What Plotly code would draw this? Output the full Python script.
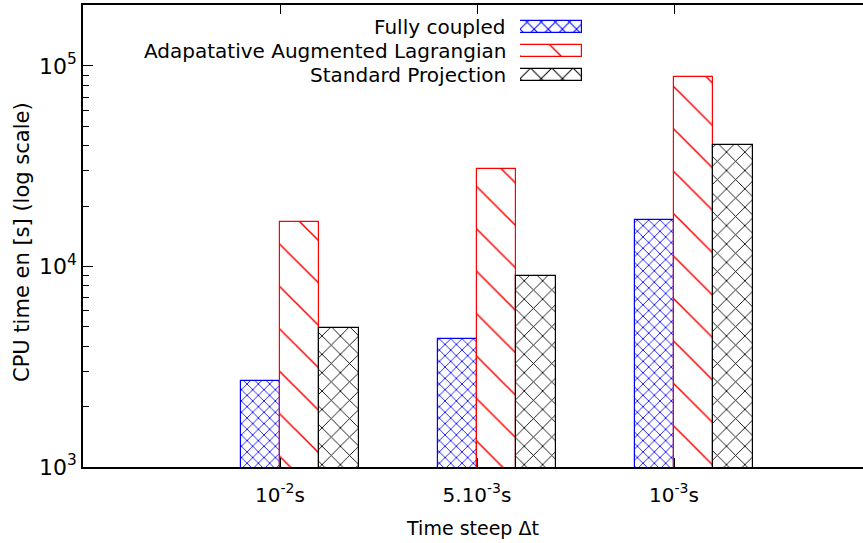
import plotly.graph_objects as go

# ---- data ----
categories = ["10<sup>-2</sup>s", "5.10<sup>-3</sup>s", "10<sup>-3</sup>s"]
cat_pos = [1, 2, 3]
series_names = ["Fully coupled", "Adapatative Augmented Lagrangian", "Standard Projection"]
fully_coupled = [2690, 4350, 17000]
aug_lagrangian = [16700, 30600, 88100]
std_projection = [4930, 8970, 40400]
y_tickvals = [1e3, 1e4, 1e5]
y_ticktext = ["10<sup>3</sup>", "10<sup>4</sup>", "10<sup>5</sup>"]
x_title = "Time steep Δt"
y_title = "CPU time en [s] (log scale)"

FONT = "DejaVu Sans"
FS = 20

W, H = 863, 543
ML, MR, MT, MB = 83, 0, 5, 76
PW, PH = W - ML - MR, H - MT - MB

def px_x(p):
    return (p - ML) / PW

def px_y(p):
    return (H - MB - p) / PH

styles = [
    dict(color="#0000ff", shape="x", size=8, solidity=0.2, lsize=10),
    dict(color="#ff0000", shape="\\", size=30, solidity=0.05, lsize=29),
    dict(color="#000000", shape="x", size=13, solidity=0.13, lsize=15),
]
values = [fully_coupled, aug_lagrangian, std_projection]
offsets = [-0.2, 0.0, 0.2]

fig = go.Figure()
for name, vals, st, off in zip(series_names, values, styles, offsets):
    fig.add_trace(go.Bar(
        x=cat_pos, y=vals, name=name, width=0.2, offset=off,
        marker=dict(color="white", line=dict(color=st["color"], width=1.2),
                    pattern=dict(shape=st["shape"], fgcolor=st["color"], bgcolor="white",
                                 fgopacity=1, size=st["size"], solidity=st["solidity"],
                                 fillmode="overlay")),
        showlegend=False,
    ))

# legend swatches drawn as bars on a small hidden axes
for i, (name, st) in enumerate(zip(series_names, styles)):
    fig.add_trace(go.Bar(
        x=[1], y=[i], orientation="h", width=0.5, xaxis="x2", yaxis="y2",
        marker=dict(color="white", line=dict(color=st["color"], width=1.2),
                    pattern=dict(shape=st["shape"], fgcolor=st["color"], bgcolor="white",
                                 fgopacity=1, size=st["lsize"], solidity=st["solidity"],
                                 fillmode="overlay")),
        showlegend=False,
    ))
    fig.add_annotation(text=name, xref="paper", yref="y2", x=px_x(508), y=i,
                       xanchor="right", yanchor="middle", showarrow=False,
                       font=dict(family=FONT, size=FS, color="black"))

# y axis title as a rotated annotation
fig.add_annotation(text=y_title, xref="paper", yref="paper", x=px_x(22), y=px_y(242),
                   xanchor="center", yanchor="middle", textangle=-90, showarrow=False,
                   font=dict(family=FONT, size=21, color="black"))

fig.update_layout(
    width=W, height=H,
    margin=dict(l=ML, r=MR, t=MT, b=MB, autoexpand=False),
    paper_bgcolor="white", plot_bgcolor="white",
    barmode="overlay", bargap=0,
    font=dict(family=FONT, size=FS, color="black"),
    xaxis=dict(
        range=[0, (W - ML) / 197.0], tickvals=cat_pos, ticktext=categories,
        showline=True, linecolor="black", linewidth=1.5, mirror="ticks",
        ticks="inside", ticklen=9, tickcolor="black", tickwidth=1,
        showgrid=False, zeroline=False, ticklabelstandoff=9,
        title=dict(text=x_title, standoff=16, font=dict(size=19)),
    ),
    yaxis=dict(
        type="log", range=[3, 5.304], tickvals=y_tickvals, ticktext=y_ticktext,
        tickfont=dict(size=22),
        showline=True, linecolor="black", linewidth=1.5,
        ticks="inside", ticklen=10, tickcolor="black", tickwidth=1,
        minor=dict(ticks="inside", ticklen=6, tickcolor="black", tickwidth=1,
                   tickvals=[2e3, 3e3, 4e3, 5e3, 6e3, 7e3, 8e3, 9e3,
                             2e4, 3e4, 4e4, 5e4, 6e4, 7e4, 8e4, 9e4, 2e5], showgrid=False),
        showgrid=False, zeroline=False, ticklabelstandoff=0,
    ),
    xaxis2=dict(domain=[px_x(520), px_x(582)], range=[0, 1], visible=False, anchor="y2"),
    yaxis2=dict(domain=[px_y(87), px_y(15)], range=[2.5, -0.5], visible=False, anchor="x2"),
)

fig.write_html("out.html", config={"displayModeBar": False},
               post_script="document.body.style.margin='0';")
